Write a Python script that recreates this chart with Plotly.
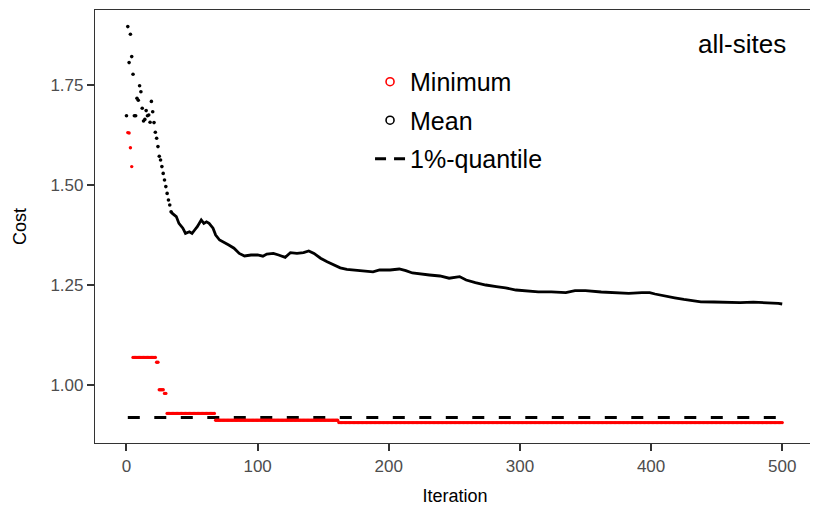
import plotly.graph_objects as go

# ---- data ----
mean_iter = [0, 1, 2, 3, 4, 5, 6, 7, 8, 9, 10, 11, 12, 13, 14, 15, 16, 17, 18, 19, 20,
             21, 22, 23, 24, 25, 26, 27, 28, 29, 30, 31, 32, 33, 34,
             35, 38, 40, 43, 45, 48, 50, 52, 54, 57, 59, 61, 63, 66, 68, 71, 74, 78,
             82, 86, 90, 95, 100, 104, 107, 112, 116, 121, 125, 130, 135, 139, 143,
             148, 153, 158, 163, 168, 175, 183, 188, 193, 201, 208, 213, 218, 223,
             231, 239, 246, 254, 259, 266, 274, 282, 289, 297, 304, 314, 324, 335,
             342, 350, 362, 372, 383, 393, 399, 403, 410, 418, 425, 433, 438, 448,
             458, 468, 478, 489, 497, 500]
mean_cost = [1.673, 1.896, 1.806, 1.877, 1.821, 1.777, 1.673, 1.673, 1.717, 1.712,
             1.748, 1.733, 1.692, 1.660, 1.664, 1.686, 1.673, 1.675, 1.657, 1.709,
             1.683, 1.656, 1.632, 1.617, 1.596, 1.572, 1.5625, 1.546, 1.529, 1.5125,
             1.496, 1.479, 1.4625, 1.45, 1.433,
             1.429, 1.421, 1.404, 1.392, 1.379, 1.383, 1.379, 1.3875, 1.396, 1.4125,
             1.404, 1.408, 1.404, 1.392, 1.375, 1.3625, 1.358, 1.35, 1.342, 1.329,
             1.3225, 1.325, 1.325, 1.322, 1.3275, 1.329, 1.325, 1.319, 1.331, 1.329,
             1.331, 1.335, 1.329, 1.317, 1.308, 1.300, 1.293, 1.289, 1.2875, 1.285,
             1.283, 1.2875, 1.2875, 1.290, 1.286, 1.280, 1.2775, 1.275, 1.2725, 1.267,
             1.271, 1.2625, 1.256, 1.250, 1.246, 1.243, 1.2375, 1.236, 1.233, 1.233,
             1.231, 1.236, 1.236, 1.2325, 1.231, 1.229, 1.231, 1.231, 1.2275, 1.2225,
             1.218, 1.214, 1.211, 1.208, 1.2075, 1.206, 1.206, 1.207, 1.206, 1.204,
             1.2025]
dense_from = 34  # iteration from which the mean dots merge into a line

# minimum cost: step runs (first iteration, last iteration, value)
min_run_start = [1, 2, 3, 4, 5, 23, 25, 29, 31, 68, 162]
min_run_end = [1, 2, 3, 4, 22, 24, 28, 30, 67, 161, 500]
min_run_value = [1.631, 1.630, 1.593, 1.546, 1.069, 1.057, 0.988, 0.979, 0.929, 0.912, 0.906]

quantile_iter = [1, 500]
quantile_value = [0.919, 0.919]

x_ticks = [0, 100, 200, 300, 400, 500]
y_ticks = [1.00, 1.25, 1.50, 1.75]
y_tick_text = ["1.00", "1.25", "1.50", "1.75"]

# ---- build ----
min_iter, min_cost = [], []
for s, e, v in zip(min_run_start, min_run_end, min_run_value):
    for i in range(s, e + 1):
        min_iter.append(i)
        min_cost.append(v)

early_x = [i for i in mean_iter if i <= dense_from]
early_y = [c for i, c in zip(mean_iter, mean_cost) if i <= dense_from]
late_x = [i for i in mean_iter if i >= dense_from]
late_y = [c for i, c in zip(mean_iter, mean_cost) if i >= dense_from]

FONT = "Liberation Sans, Arial, sans-serif"
fig = go.Figure()

fig.add_trace(go.Scatter(x=quantile_iter, y=quantile_value, mode="lines",
                         line=dict(color="black", width=3, dash="12px,14.5px"),
                         showlegend=False, hoverinfo="skip"))
fig.add_trace(go.Scatter(x=min_iter, y=min_cost, mode="markers",
                         marker=dict(color="red", size=3.4, line=dict(width=0)),
                         showlegend=False))
fig.add_trace(go.Scatter(x=early_x, y=early_y, mode="markers",
                         marker=dict(color="black", size=3.6, line=dict(width=0)),
                         showlegend=False))
fig.add_trace(go.Scatter(x=late_x, y=late_y, mode="lines",
                         line=dict(color="black", width=2.8),
                         showlegend=False))

# legend entries
fig.add_trace(go.Scatter(x=[None], y=[None], mode="markers", name="Minimum",
                         marker=dict(symbol="circle-open", color="red", size=8,
                                     line=dict(width=1.6)),
                         legendgroup="a"))
fig.add_trace(go.Scatter(x=[None], y=[None], mode="markers", name="Mean",
                         marker=dict(symbol="circle-open", color="black", size=8,
                                     line=dict(width=1.6)),
                         legendgroup="b"))
fig.add_trace(go.Scatter(x=[None], y=[None], mode="lines", name="1%-quantile",
                         line=dict(color="black", width=3, dash="11px,8px"),
                         legendgroup="c"))

fig.update_layout(
    width=810, height=505,
    margin=dict(l=87, r=3, t=2, b=70),
    paper_bgcolor="white", plot_bgcolor="white",
    font=dict(family=FONT, color="black"),
    legend=dict(x=0.382, y=0.887, xanchor="left", yanchor="top",
                font=dict(size=25, family=FONT, color="black"),
                bgcolor="rgba(0,0,0,0)", traceorder="grouped",
                tracegroupgap=3, itemwidth=30),
    annotations=[dict(text="all-sites", x=0.962, y=0.922, xref="paper", yref="paper",
                      xanchor="right", yanchor="middle", showarrow=False,
                      font=dict(size=26, family=FONT, color="black"))],
)
fig.update_xaxes(range=[-24, 525], tickvals=x_ticks, ticks="outside", ticklen=7,
                 tickwidth=2, tickcolor="#333333", showline=True, linecolor="#333333",
                 linewidth=1.2, mirror=True, showgrid=False, zeroline=False,
                 automargin=False,
                 tickfont=dict(size=17, color="#4D4D4D", family=FONT),
                 title=dict(text="Iteration", font=dict(size=18, family=FONT), standoff=14))
fig.update_yaxes(range=[0.855, 1.9375], tickvals=y_ticks, ticktext=y_tick_text,
                 ticks="outside", ticklen=7, tickwidth=2, tickcolor="#333333",
                 showline=True, linecolor="#333333", linewidth=1.2, mirror=True,
                 showgrid=False, zeroline=False, automargin=False,
                 tickfont=dict(size=17, color="#4D4D4D", family=FONT),
                 title=dict(text="Cost", font=dict(size=18, family=FONT), standoff=19))

fig.write_html("out.html")
